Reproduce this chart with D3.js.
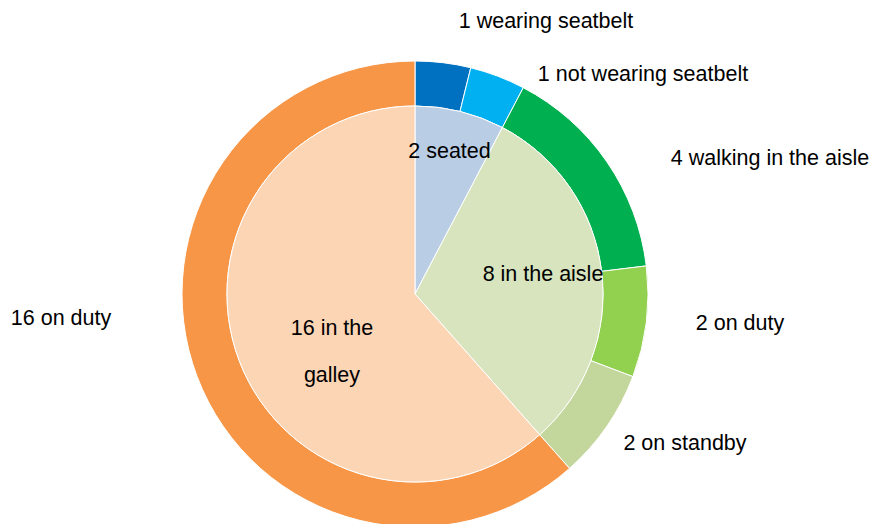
<!DOCTYPE html>
<html>
<head>
<meta charset="utf-8">
<script src="https://cdn.jsdelivr.net/npm/d3@7"></script>
<style>
  html, body { margin: 0; padding: 0; background: #fff; }
  svg text { font-family: "Liberation Sans", Arial, Helvetica, sans-serif; font-size: 21.5px; fill: #000; }
</style>
</head>
<body>
<svg id="chart" width="871" height="524"></svg>
<script>
// Inner ring: where the crew are
const innerNames  = ["seated", "in the aisle", "in the galley"];
const innerValues = [2, 8, 16];
const innerColors = ["#B9CDE5", "#D7E4BD", "#FCD5B5"];

// Outer ring: what they are doing
const outerNames  = ["wearing seatbelt", "not wearing seatbelt", "walking in the aisle", "on duty", "on standby", "on duty"];
const outerValues = [1, 1, 4, 2, 2, 16];
const outerColors = ["#0070C0", "#00B0F0", "#00B050", "#92D050", "#C3D69B", "#F79646"];

// Chart geometry
const cx = 415, cy = 294;
const rInner = 188, rOuter = 233;

// Label anchors (centre x, baseline y) relative to the chart centre
const innerLabelPos = [
  { dx: 34.5, dy: -135.7, wrap: 200 },
  { dx: 128,  dy: -13,    wrap: 200 },
  { dx: -83,  dy: 41,     wrap: 95 }
];
const outerLabelPos = [
  { dx: 131, dy: -265.7 },
  { dx: 228, dy: -212.7 },
  { dx: 355, dy: -128.7 },
  { dx: 325, dy: 36 },
  { dx: 270, dy: 156 },
  { dx: -354, dy: 31 }
];
const lineHeight = 46.7;

const svg = d3.select("#chart");
const g = svg.append("g").attr("transform", `translate(${cx},${cy})`);

const pie = d3.pie().sort(null).value(d => d.value);

const innerData = pie(innerValues.map((v, i) => ({ name: innerNames[i], value: v, color: innerColors[i] })));
const outerData = pie(outerValues.map((v, i) => ({ name: outerNames[i], value: v, color: outerColors[i] })));

const innerArc = d3.arc().innerRadius(0).outerRadius(rInner);
const outerArc = d3.arc().innerRadius(rInner).outerRadius(rOuter);

g.selectAll("path.outer")
  .data(outerData)
  .join("path")
  .attr("class", "outer")
  .attr("d", outerArc)
  .attr("fill", d => d.data.color)
  .attr("stroke", "#fff")
  .attr("stroke-width", 1);

g.selectAll("path.inner")
  .data(innerData)
  .join("path")
  .attr("class", "inner")
  .attr("d", innerArc)
  .attr("fill", d => d.data.color)
  .attr("stroke", "#fff")
  .attr("stroke-width", 1);

// Word-wrap a label into lines no wider than maxWidth
function addLabel(sel, text, pos) {
  const t = sel.append("text")
    .attr("text-anchor", "middle")
    .attr("x", pos.dx)
    .attr("y", pos.dy);
  if (!pos.wrap) { t.text(text); return; }
  const words = text.split(" ");
  const lines = [];
  let line = [];
  const probe = sel.append("text").style("visibility", "hidden");
  for (const w of words) {
    const tryLine = line.concat(w).join(" ");
    probe.text(tryLine);
    if (probe.node().getComputedTextLength() > pos.wrap && line.length) {
      lines.push(line.join(" "));
      line = [w];
    } else {
      line.push(w);
    }
  }
  if (line.length) lines.push(line.join(" "));
  probe.remove();
  lines.forEach((l, i) => {
    t.append("tspan").attr("x", pos.dx).attr("y", pos.dy + i * lineHeight).text(l);
  });
}

const labels = g.append("g");
innerData.forEach((d, i) => addLabel(labels, `${d.data.value} ${d.data.name}`, innerLabelPos[i]));
outerData.forEach((d, i) => addLabel(labels, `${d.data.value} ${d.data.name}`, outerLabelPos[i]));
</script>
</body>
</html>
